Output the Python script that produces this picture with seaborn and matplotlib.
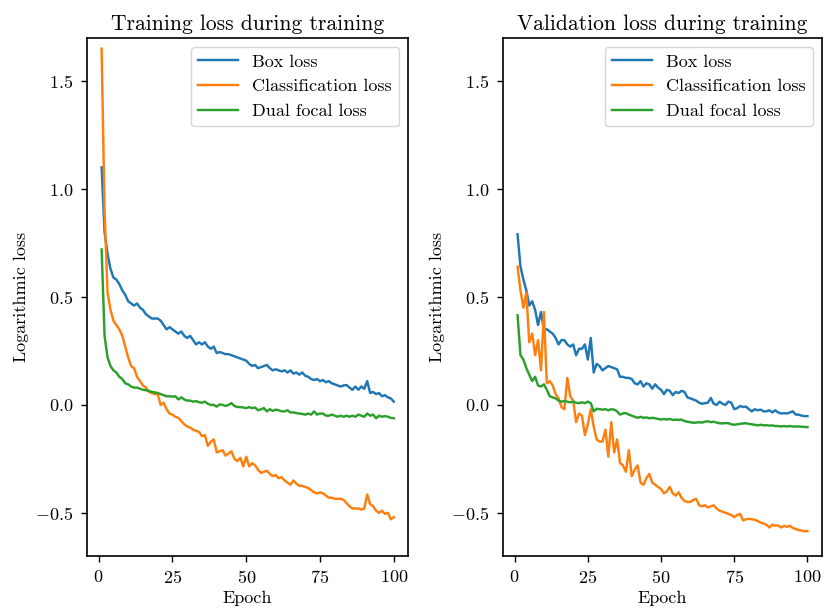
import numpy as np
import pandas as pd
import matplotlib
matplotlib.use("Agg")
import matplotlib.pyplot as plt
import seaborn as sns

epochs = list(range(1, 101))

train_box = [1.10, 0.80, 0.70, 0.63, 0.59, 0.58, 0.56, 0.53, 0.51, 0.48,
             0.47, 0.46, 0.47, 0.45, 0.44, 0.42, 0.41, 0.40, 0.40, 0.40,
             0.39, 0.37, 0.35, 0.36, 0.35, 0.34, 0.33, 0.34, 0.32, 0.31,
             0.32, 0.30, 0.28, 0.29, 0.28, 0.29, 0.27, 0.26, 0.27, 0.24,
             0.245, 0.24, 0.235, 0.235, 0.23, 0.225, 0.22, 0.215, 0.21, 0.205,
             0.19, 0.18, 0.185, 0.17, 0.175, 0.18, 0.185, 0.17, 0.16, 0.165,
             0.16, 0.155, 0.16, 0.15, 0.16, 0.145, 0.15, 0.14, 0.15, 0.135,
             0.13, 0.12, 0.115, 0.12, 0.11, 0.115, 0.105, 0.11, 0.10, 0.095,
             0.09, 0.085, 0.09, 0.092, 0.08, 0.07, 0.085, 0.07, 0.085, 0.075,
             0.11, 0.055, 0.06, 0.05, 0.055, 0.04, 0.045, 0.035, 0.03, 0.015]

train_cls = [1.65, 0.90, 0.52, 0.44, 0.39, 0.37, 0.35, 0.32, 0.27, 0.22,
             0.18, 0.17, 0.13, 0.11, 0.09, 0.08, 0.06, 0.055, 0.05, 0.05,
             0.0, 0.01, -0.02, -0.04, -0.045, -0.055, -0.06, -0.075, -0.09, -0.10,
             -0.105, -0.115, -0.12, -0.125, -0.145, -0.14, -0.19, -0.17, -0.16, -0.22,
             -0.215, -0.21, -0.235, -0.225, -0.215, -0.25, -0.26, -0.245, -0.285, -0.24,
             -0.285, -0.27, -0.28, -0.30, -0.315, -0.31, -0.305, -0.32, -0.33, -0.325,
             -0.34, -0.335, -0.35, -0.36, -0.37, -0.35, -0.365, -0.375, -0.375, -0.38,
             -0.385, -0.395, -0.405, -0.41, -0.405, -0.41, -0.42, -0.43, -0.43, -0.435,
             -0.435, -0.435, -0.44, -0.455, -0.47, -0.48, -0.48, -0.48, -0.485, -0.48,
             -0.415, -0.46, -0.47, -0.49, -0.50, -0.49, -0.505, -0.50, -0.53, -0.52]

train_dfl = [0.72, 0.32, 0.22, 0.18, 0.16, 0.15, 0.13, 0.12, 0.10, 0.095,
             0.085, 0.08, 0.08, 0.075, 0.07, 0.068, 0.065, 0.06, 0.058, 0.055,
             0.05, 0.045, 0.04, 0.04, 0.038, 0.04, 0.025, 0.035, 0.025, 0.02,
             0.02, 0.015, 0.018, 0.012, 0.01, 0.015, 0.005, 0.0, 0.0, -0.008,
             0.002, 0.0, -0.005, 0.0, 0.008, -0.005, -0.01, -0.01, -0.012, -0.015,
             -0.01, -0.015, -0.012, -0.025, -0.02, -0.015, -0.03, -0.02, -0.028, -0.022,
             -0.025, -0.03, -0.03, -0.025, -0.035, -0.035, -0.038, -0.04, -0.042, -0.045,
             -0.04, -0.045, -0.03, -0.045, -0.04, -0.04, -0.05, -0.05, -0.045, -0.05,
             -0.055, -0.05, -0.055, -0.05, -0.055, -0.05, -0.055, -0.045, -0.05, -0.055,
             -0.04, -0.05, -0.045, -0.062, -0.05, -0.055, -0.052, -0.055, -0.06, -0.062]

val_box = [0.79, 0.64, 0.58, 0.53, 0.46, 0.48, 0.44, 0.37, 0.43, 0.35,
           0.35, 0.34, 0.33, 0.31, 0.28, 0.30, 0.30, 0.28, 0.27, 0.28,
           0.23, 0.26, 0.26, 0.28, 0.21, 0.31, 0.15, 0.19, 0.18, 0.16,
           0.17, 0.18, 0.175, 0.17, 0.165, 0.13, 0.13, 0.125, 0.125, 0.12,
           0.10, 0.095, 0.11, 0.085, 0.10, 0.095, 0.075, 0.095, 0.08, 0.07,
           0.05, 0.07, 0.065, 0.045, 0.06, 0.055, 0.065, 0.06, 0.035, 0.03,
           0.025, 0.02, 0.01, 0.005, 0.008, 0.01, 0.032, 0.005, 0.0, 0.015,
           0.005, 0.0, 0.015, 0.01, -0.02, -0.015, -0.005, -0.01, -0.008, -0.02,
           -0.03, -0.02, -0.025, -0.022, -0.03, -0.03, -0.025, -0.035, -0.025, -0.035,
           -0.04, -0.038, -0.04, -0.035, -0.03, -0.045, -0.045, -0.05, -0.052, -0.052]

val_cls = [0.64, 0.53, 0.45, 0.52, 0.29, 0.33, 0.23, 0.30, 0.16, 0.43,
           0.10, 0.11, 0.09, 0.05, 0.03, -0.01, -0.02, 0.125, 0.04, 0.02,
           -0.08, -0.04, -0.05, -0.14, -0.09, -0.02, -0.10, -0.16, -0.17, -0.17,
           -0.115, -0.24, -0.08, -0.22, -0.16, -0.27, -0.28, -0.31, -0.21, -0.33,
           -0.30, -0.28, -0.36, -0.37, -0.34, -0.32, -0.36, -0.37, -0.38, -0.39,
           -0.41, -0.40, -0.38, -0.41, -0.42, -0.405, -0.43, -0.445, -0.45, -0.45,
           -0.44, -0.435, -0.465, -0.47, -0.465, -0.475, -0.47, -0.465, -0.48, -0.49,
           -0.495, -0.50, -0.505, -0.51, -0.52, -0.51, -0.505, -0.535, -0.53, -0.528,
           -0.53, -0.532, -0.538, -0.545, -0.55, -0.555, -0.568, -0.555, -0.56, -0.558,
           -0.568, -0.56, -0.565, -0.56, -0.57, -0.575, -0.58, -0.582, -0.585, -0.585]

val_dfl = [0.415, 0.23, 0.21, 0.17, 0.14, 0.11, 0.13, 0.09, 0.085, 0.095,
           0.07, 0.04, 0.035, 0.03, 0.02, 0.015, 0.018, 0.015, 0.012, 0.015,
           0.01, 0.008, 0.012, 0.008, 0.015, 0.008, -0.03, -0.018, -0.02, -0.022,
           -0.02, -0.025, -0.02, -0.022, -0.03, -0.045, -0.04, -0.038, -0.045, -0.05,
           -0.055, -0.06, -0.055, -0.06, -0.058, -0.062, -0.06, -0.062, -0.065, -0.068,
           -0.065, -0.068, -0.065, -0.07, -0.068, -0.07, -0.068, -0.075, -0.078, -0.08,
           -0.083, -0.082, -0.08, -0.082, -0.078, -0.076, -0.08, -0.078, -0.082, -0.085,
           -0.086, -0.084, -0.085, -0.09, -0.092, -0.09, -0.088, -0.086, -0.085, -0.088,
           -0.09, -0.092, -0.095, -0.092, -0.095, -0.094, -0.096, -0.095, -0.098, -0.098,
           -0.1, -0.098, -0.1, -0.098, -0.1, -0.1, -0.1, -0.101, -0.102, -0.103]

series_names = ["Box loss", "Classification loss", "Dual focal loss"]
titles = ["Training loss during training", "Validation loss during training"]

plt.rcParams.update({
    "font.family": "serif",
    "font.serif": ["cmr10"],
    "mathtext.fontset": "cm",
    "axes.formatter.use_mathtext": True,
    "axes.unicode_minus": True,
    "font.size": 13,
    "axes.linewidth": 1.2,
    "xtick.major.size": 4.5,
    "ytick.major.size": 4.5,
    "xtick.major.width": 1.0,
    "ytick.major.width": 1.0,
    "xtick.major.pad": 4.5,
    "ytick.major.pad": 5.5,
})


def make_df(box, cls, dfl):
    frames = []
    for name, vals in zip(series_names, [box, cls, dfl]):
        frames.append(pd.DataFrame({"Epoch": epochs, "Loss": vals, "Series": name}))
    return pd.concat(frames, ignore_index=True)


dfs = [make_df(train_box, train_cls, train_dfl), make_df(val_box, val_cls, val_dfl)]

fig = plt.figure(figsize=(8.24, 6.11), dpi=100)
ax1 = fig.add_axes([0.1056, 0.090, 0.390, 0.848])
ax2 = fig.add_axes([0.6105, 0.090, 0.387, 0.848], sharey=ax1)
palette = ["#1f77b4", "#ff7f0e", "#2ca02c"]

for ax, df, title in zip([ax1, ax2], dfs, titles):
    sns.lineplot(data=df, x="Epoch", y="Loss", hue="Series", palette=palette,
                 linewidth=1.75, ax=ax)
    ax.set_title(title, fontsize=15.5)
    ax.set_xlabel("Epoch", fontsize=13)
    ax.set_ylabel("Logarithmic loss", fontsize=13)
    ax.set_ylim(-0.70, 1.70)
    ax.set_xticks([0, 25, 50, 75, 100])
    ax.set_yticks([-0.5, 0.0, 0.5, 1.0, 1.5])
    ax.tick_params(labelsize=13)
    ax.tick_params(axis="y", labelleft=True)
    leg = ax.legend(loc="upper right", fontsize=13, title=None, handlelength=2.2)

fig.savefig("out.png", dpi=100)
